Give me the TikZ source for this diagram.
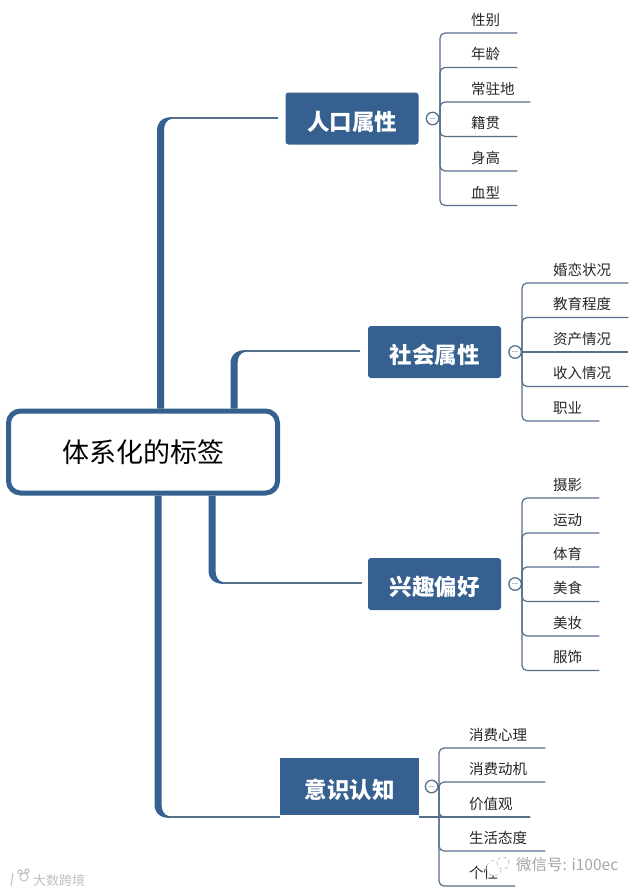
\documentclass[tikz,border=0pt]{standalone}
\usepackage{fontspec}
\setmainfont{Noto Sans CJK SC}
\usepackage{xcolor}
\usetikzlibrary{positioning,calc}
\definecolor{topicblue}{HTML}{35608F}
\definecolor{stemblue}{HTML}{566F8B}
% tapered branch: trunk start, corner, direction (1 down, -1 up)
\newcommand{\taper}[3]{
  \fill[topicblue] ($(#1 -| #2)+(-3.5,0)$) -- ($(#2)+(-3.5,-#3*13)$)
    .. controls ($(#2)+(-3.5,-#3*4)$) and ($(#2)+(2,#3*0.8)$) .. ($(#2)+(11,#3*0.8)$)
    -- ($(#2)+(11,-#3*0.8)$)
    .. controls ($(#2)+(6,-#3*2)$) and ($(#2)+(3.5,-#3*6)$) .. ($(#2)+(3.5,-#3*13)$)
    -- ($(#1 -| #2)+(3.5,0)$) -- cycle;
}

\begin{document}
\begin{tikzpicture}[x=1pt, y=-1pt,
  rootbox/.style={draw=topicblue, line width=5pt, rounded corners=12pt, fill=white,
                  minimum width=269pt, minimum height=82pt, inner sep=0pt,
                  font=\fontsize{27}{30}\selectfont},
  topic/.style={fill=topicblue, rounded corners=3pt, text=white, inner sep=0pt,
                minimum width=133pt, minimum height=52pt, text height=26pt, text depth=3pt,
                font=\bfseries\fontsize{22.5}{26}\selectfont},
  knob/.style={circle, draw=stemblue, line width=1.3pt, fill=white, inner sep=0pt,
               minimum size=12.5pt, text=stemblue, font=\fontsize{10}{10}\selectfont},
  leaf/.style={anchor=south west, inner sep=0pt, minimum height=26pt, text width=46pt,
               align=left, text=black!85, font=\fontsize{14.5}{17}\selectfont},
  link/.style={draw=stemblue, line width=1.4pt, shorten <=9pt},
  stem/.style={draw=stemblue, line width=1.2pt, rounded corners=5pt},
  wmark/.style={text=black!35, inner sep=0pt, font=\fontsize{15.5}{18}\selectfont}]
\useasboundingbox (0,0) rectangle (640,894);

\node[rootbox] (root) at (143,452) {体系化的标签};
\node[topic] (t1) at (352,118.5) {人口属性};
\node[topic] (t2) at (434.5,352) {社会属性};
\node[topic] (t3) at (434.5,584) {兴趣偏好};
\node[topic, rounded corners=0pt, minimum width=139pt, minimum height=57pt] (t4)
  at (349.5,786.5) {意识认知};

\coordinate (c1) at (160.5,118);
\coordinate (c2) at (234,351);
\coordinate (c3) at (212,583);
\coordinate (c4) at (158,817);
\draw[link, shorten >=7pt] (c1) -- (t1.west |- c1);
\draw[link, shorten >=8pt] (c2) -- (t2.west |- c2);
\draw[link, shorten >=6pt] (c3) -- (t3.west |- c3);
\draw[link] (c4) -- (t4.west |- c4);
\taper{root.north}{c1}{-1}
\taper{root.north}{c2}{-1}
\taper{root.south}{c3}{1}
\taper{root.south}{c4}{1}

\node[knob, right=7pt of t1] (k1) {$-$};
\node[knob, right=7pt of t2] (k2) {$-$};
\node[knob, right=7pt of t3] (k3) {$-$};
\node[knob, right=5.5pt of t4] (k4) {$-$};
\coordinate (s1) at (440,119);
\coordinate (s2) at (522,352);
\coordinate (s3) at (522,584);
\coordinate (s4) at (439,785);

\node[leaf] (l11) at (471,33) {性别};
\node[leaf] (l12) at (471,67.5) {年龄};
\node[leaf, text width=59pt] (l13) at (471,102) {常驻地};
\node[leaf] (l14) at (471,136.5) {籍贯};
\node[leaf] (l15) at (471,171) {身高};
\node[leaf] (l16) at (471,205.5) {血型};

\node[leaf, text width=75pt] (l21) at (553,283) {婚恋状况};
\node[leaf, text width=75pt] (l22) at (553,317.5) {教育程度};
\node[leaf, text width=75pt] (l23) at (553,352) {资产情况};
\node[leaf, text width=75pt] (l24) at (553,386.5) {收入情况};
\node[leaf] (l25) at (553,421) {职业};

\node[leaf] (l31) at (553,498) {摄影};
\node[leaf] (l32) at (553,533) {运动};
\node[leaf] (l33) at (553,567) {体育};
\node[leaf] (l34) at (553,601.5) {美食};
\node[leaf] (l35) at (553,636) {美妆};
\node[leaf] (l36) at (553,670.5) {服饰};

\node[leaf, text width=76pt] (l41) at (469,748) {消费心理};
\node[leaf, text width=76pt] (l42) at (469,782) {消费动机};
\node[leaf, text width=61pt] (l43) at (469,817) {价值观};
\node[leaf, text width=76pt] (l44) at (469,851) {生活态度};
\node[leaf] (l45) at (469,886) {个性};

\draw[stem] (k1.east) -- (s1);
\draw[stem] (s1) |- (l11.south east);
\draw[stem] (s1) |- (l12.south east);
\draw[stem] (s1) |- (l13.south east);
\draw[stem] (s1) |- (l14.south east);
\draw[stem] (s1) |- (l15.south east);
\draw[stem] (s1) |- (l16.south east);

\draw[stem] (k2.east) -- (s2);
\draw[stem] (s2) |- (l21.south east);
\draw[stem] (s2) |- (l22.south east);
\draw[stem] (s2) -- (l23.south east);
\draw[stem] (s2) |- (l24.south east);
\draw[stem] (s2) |- (l25.south east);

\draw[stem] (k3.east) -- (s3);
\draw[stem] (s3) |- (l31.south east);
\draw[stem] (s3) |- (l32.south east);
\draw[stem] (s3) |- (l33.south east);
\draw[stem] (s3) |- (l34.south east);
\draw[stem] (s3) |- (l35.south east);
\draw[stem] (s3) |- (l36.south east);

\draw[stem] (k4.east) -- (s4);
\draw[stem] (s4) |- (l41.south east);
\draw[stem] (s4) |- (l42.south east);
\draw[stem] (s4) |- (l43.south east);
\draw[stem] (s4) |- (l44.south east);
\draw[stem] (s4) |- (l45.south east);
\draw[stem] (l43.south east) -- (l43.south east -| t4.east);

% watermarks
\node[wmark, anchor=west] (wm1) at (516,865) {微信号: i100ec};
\node[wmark, anchor=west, text=black!25, font=\fontsize{13}{15}\selectfont] (wm2)
  at (33,881) {大数跨境};
\draw[black!30, line width=0.6pt, dashed, fill=white] (494,868) circle (7.5pt);
\draw[black!30, line width=0.6pt, dashed, fill=white] (503,863) circle (6pt);
\draw[black!25, line width=1pt] (13,873) -- (11,886) (24,877) circle (4pt) (20,872) circle (2pt) (27,871) circle (2pt);
\end{tikzpicture}
\end{document}
